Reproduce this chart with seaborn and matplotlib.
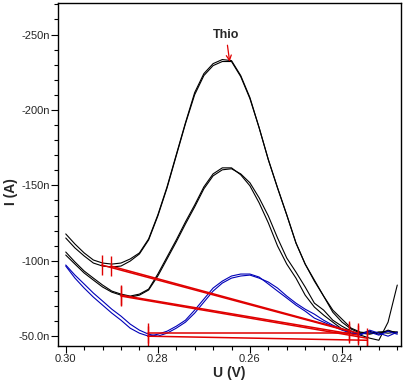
import matplotlib
matplotlib.use('Agg')

import matplotlib.pyplot as plt
import seaborn as sns
import pandas as pd
from matplotlib.ticker import MultipleLocator, AutoMinorLocator, FuncFormatter

# potential grid (V), scanned from 0.300 down to 0.228
potential = [0.300, 0.298, 0.296, 0.294, 0.292, 0.290, 0.288, 0.286, 0.284, 0.282,
             0.280, 0.278, 0.276, 0.274, 0.272, 0.270, 0.268, 0.266, 0.264, 0.262,
             0.260, 0.258, 0.256, 0.254, 0.252, 0.250, 0.248, 0.246, 0.244, 0.242,
             0.240, 0.238, 0.236, 0.234, 0.232, 0.230, 0.228]

# currents in nA
high_scan1 = [-117.8, -111.1, -105.2, -100.5, -98.5, -97.8, -98.5, -101.2, -105.2, -114.5,
              -130.4, -149.0, -170.3, -191.5, -211.5, -224.1, -230.7, -233.4, -232.7, -222.8,
              -208.2, -188.2, -167.0, -148.3, -130.4, -111.8, -97.8, -87.2, -76.6, -67.3,
              -61.3, -55.3, -52.7, -52.0, -52.7, -53.3, -52.7]
high_scan2 = [-115.1, -108.5, -103.2, -98.5, -96.5, -95.9, -96.5, -99.8, -104.5, -113.8,
              -129.7, -148.3, -169.6, -190.9, -210.1, -222.8, -229.4, -232.1, -232.1, -222.1,
              -207.5, -188.2, -167.0, -148.3, -130.4, -111.8, -97.8, -86.5, -76.6, -65.9,
              -59.3, -54.7, -52.0, -53.3, -51.3, -54.0, -52.0]
mid_scan1 = [-105.8, -99.2, -93.2, -88.5, -83.9, -79.9, -77.9, -76.6, -77.9, -81.2,
             -91.2, -102.5, -113.8, -125.8, -137.0, -149.0, -157.6, -161.6, -161.6, -157.0,
             -149.7, -138.4, -125.1, -109.8, -97.8, -88.5, -77.2, -69.3, -64.0, -59.3,
             -54.7, -52.0, -52.0, -51.3, -52.7, -52.0, -52.7]
mid_scan2 = [-103.8, -97.8, -91.9, -87.2, -82.6, -79.2, -77.2, -75.9, -77.2, -80.6,
             -89.9, -101.2, -112.5, -124.4, -135.7, -147.7, -156.3, -160.3, -161.0, -157.6,
             -151.7, -141.7, -129.7, -115.1, -101.8, -92.5, -82.6, -71.9, -67.3, -60.6,
             -56.6, -53.3, -50.7, -48.7, -47.3, -59.3, -83.9]
low_scan1 = [-96.5, -88.5, -81.9, -75.9, -70.6, -65.3, -60.6, -55.3, -52.0, -50.0,
             -51.3, -53.3, -56.6, -60.6, -67.3, -74.6, -81.9, -86.5, -89.9, -91.2,
             -91.2, -89.2, -84.6, -79.9, -75.3, -70.6, -66.6, -62.0, -59.3, -56.6,
             -54.0, -52.0, -51.3, -52.7, -50.7, -53.3, -51.3]
low_scan2 = [-97.2, -90.5, -84.6, -78.6, -73.3, -67.9, -63.3, -58.0, -54.0, -51.3,
             -50.0, -52.0, -55.3, -59.3, -65.3, -72.6, -79.9, -85.2, -88.5, -89.9,
             -90.5, -88.5, -85.9, -81.9, -76.6, -71.9, -67.9, -64.6, -60.6, -57.3,
             -54.7, -53.3, -50.7, -54.0, -52.0, -50.0, -52.7]

# peak baselines: (start U, start I, end U, end I)
base_start_u = [0.2922, 0.2902, 0.2880, 0.2880, 0.2822, 0.2822]
base_start_i = [-97.2, -96.5, -77.2, -76.6, -52.0, -50.0]
base_end_u = [0.2385, 0.2365, 0.2365, 0.2346, 0.2385, 0.2346]
base_end_i = [-53.3, -52.0, -50.7, -48.7, -52.0, -47.3]

peak_label = 'Thio'
peak_u = 0.2644
peak_i = -232.0

sns.set_style('white')
plt.rcParams['font.family'] = ['Liberation Sans', 'DejaVu Sans']

fig = plt.figure(figsize=(4.05, 3.8), dpi=100)
ax = fig.add_axes([0.143, 0.0895, 0.847, 0.903])

curves = [(high_scan1, 'black'), (high_scan2, 'black'),
          (mid_scan1, 'black'), (mid_scan2, 'black'),
          (low_scan1, '#0000b8'), (low_scan2, '#0000b8')]
for vals, col in curves:
    df = pd.DataFrame({'U': potential, 'I': vals})
    sns.lineplot(data=df, x='U', y='I', ax=ax, color=col, lw=0.8,
                 sort=False, estimator=None)

# baselines with cursor marks at both ends
for su, si, eu, ei in zip(base_start_u, base_start_i, base_end_u, base_end_i):
    ax.plot([su, eu], [si, ei], color='#e00000', lw=1.1, marker='|',
            markersize=15, markeredgewidth=1.0)

ax.annotate(peak_label, xy=(peak_u, peak_i), xytext=(peak_u + 0.0008, peak_i - 14),
            ha='center', va='bottom', fontsize=9, fontweight='bold',
            arrowprops=dict(arrowstyle='->', color='#e00000', lw=0.9,
                            shrinkA=1, shrinkB=0))

ax.set_xlim(0.3017, 0.2272)
ax.set_ylim(-43.5, -271)

ax.xaxis.set_major_locator(MultipleLocator(0.02))
ax.xaxis.set_minor_locator(AutoMinorLocator(5))
ax.yaxis.set_major_locator(MultipleLocator(50))
ax.yaxis.set_minor_locator(AutoMinorLocator(5))
ax.xaxis.set_major_formatter(FuncFormatter(lambda v, p: f'{v:.2f}'))
ax.yaxis.set_major_formatter(
    FuncFormatter(lambda v, p: f'{v:.0f}n' if abs(v) >= 100 else f'{v:.1f}n'))

ax.tick_params(axis='both', which='major', direction='out', length=5, width=0.8,
               labelsize=8, pad=1, bottom=True, left=True, color='black')
ax.tick_params(axis='both', which='minor', direction='out', length=3, width=0.8,
               bottom=True, left=True, color='black')

for s in ax.spines.values():
    s.set_color('black')
    s.set_linewidth(1.0)

ax.set_xlabel('U (V)', fontsize=10, fontweight='bold', labelpad=1)
ax.set_ylabel('I (A)', fontsize=10, fontweight='bold')
ax.yaxis.set_label_coords(-0.117, 0.45)
ax.grid(False)

plt.savefig('out.png', dpi=100)
plt.close()
